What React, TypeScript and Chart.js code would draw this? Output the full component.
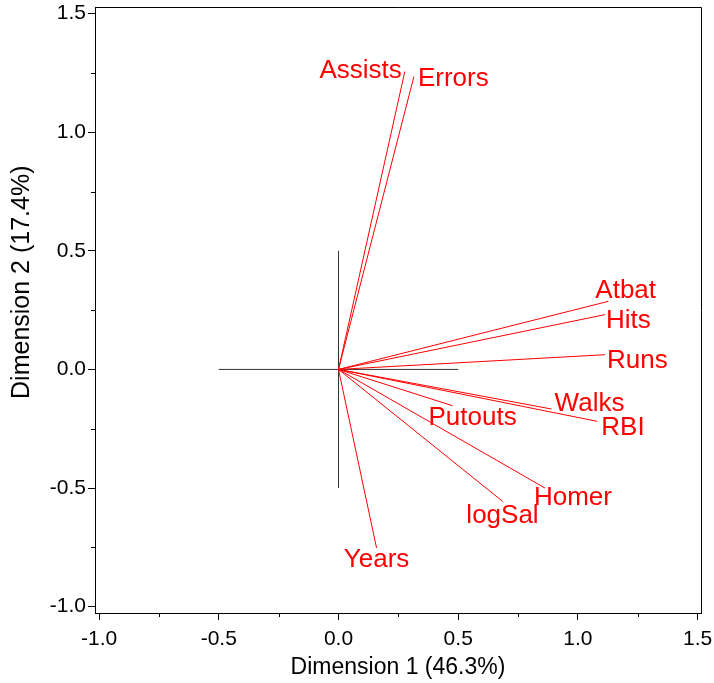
import { useEffect, useRef } from 'react';
import { Chart, registerables } from 'chart.js';

Chart.register(...registerables);

// ---- data ----
const variables = ['Assists', 'Errors', 'Atbat', 'Hits', 'Runs', 'Walks', 'RBI', 'Putouts', 'Homer', 'logSal', 'Years'];
const dim1 = [0.277, 0.315, 1.127, 1.113, 1.113, 0.890, 1.081, 0.476, 0.862, 0.685, 0.159];
const dim2 = [1.256, 1.235, 0.287, 0.231, 0.062, -0.167, -0.219, -0.153, -0.500, -0.556, -0.753];

const xTicks = [-1, -0.5, 0, 0.5, 1, 1.5];
const xTickLabels = ['-1.0', '-0.5', '0.0', '0.5', '1.0', '1.5'];
const yTicks = [-1, -0.5, 0, 0.5, 1, 1.5];
const yTickLabels = ['-1.0', '-0.5', '0.0', '0.5', '1.0', '1.5'];
const xMinorTicks = [-0.75, -0.25, 0.25, 0.75, 1.25];
const yMinorTicks = [-0.75, -0.25, 0.25, 0.75, 1.25];

const refHorizontal = [-0.5, 0.5];
const refVertical = [-0.5, 0.5];

const xTitle = 'Dimension 1 (46.3%)';
const yTitle = 'Dimension 2 (17.4%)';

// label placement relative to vector end (pixels): text anchor alignment, dx, dy of text centre
const labelPlacement: { align: CanvasTextAlign; dx: number; dy: number }[] = [
  { align: 'right', dx: -3, dy: -3 },
  { align: 'left', dx: 4, dy: 0 },
  { align: 'left', dx: -13, dy: -13 },
  { align: 'left', dx: 1, dy: 4 },
  { align: 'left', dx: 2, dy: 4 },
  { align: 'left', dx: 3, dy: -7 },
  { align: 'left', dx: 4, dy: 4 },
  { align: 'left', dx: -24, dy: 10 },
  { align: 'left', dx: -11, dy: 8 },
  { align: 'center', dx: 0, dy: 12 },
  { align: 'center', dx: 0, dy: 10 },
];

const FONT = "'Liberation Sans', Arial, sans-serif";
const RED = '#ff0000';
const LABEL_SIZE = 26;

const decorPlugin = {
  id: 'decor',
  afterDatasetsDraw(chart: any) {
    const { ctx, scales } = chart;
    const x = scales.x;
    const y = scales.y;
    ctx.save();
    ctx.fillStyle = RED;
    ctx.font = `${LABEL_SIZE}px ${FONT}`;
    ctx.textBaseline = 'alphabetic';
    const cap = LABEL_SIZE * 0.716;
    variables.forEach((name, i) => {
      const px = x.getPixelForValue(dim1[i]);
      const py = y.getPixelForValue(dim2[i]);
      const p = labelPlacement[i];
      ctx.textAlign = p.align;
      ctx.fillText(name, px + p.dx, py + p.dy + cap / 2);
    });
    ctx.restore();
  },
  afterDraw(chart: any) {
    const { ctx, chartArea: a, scales } = chart;
    const x = scales.x;
    const y = scales.y;
    ctx.save();
    ctx.strokeStyle = '#000';
    ctx.lineWidth = 1;
    ctx.beginPath();
    const top = Math.round(a.top) + 0.5;
    const right = Math.round(a.right) + 0.5;
    ctx.moveTo(Math.round(a.left), top);
    ctx.lineTo(right, top);
    ctx.lineTo(right, Math.round(a.bottom) + 0.5);
    // minor ticks
    xMinorTicks.forEach((v) => {
      const px = Math.round(x.getPixelForValue(v)) + 0.5;
      ctx.moveTo(px, a.bottom);
      ctx.lineTo(px, a.bottom + 4);
    });
    yMinorTicks.forEach((v) => {
      const py = Math.round(y.getPixelForValue(v)) + 0.5;
      ctx.moveTo(a.left, py);
      ctx.lineTo(a.left - 4, py);
    });
    ctx.stroke();
    ctx.restore();
  },
};

export default function App() {
  const canvasRef = useRef<HTMLCanvasElement | null>(null);

  useEffect(() => {
    document.body.style.margin = '0';
    const canvas = canvasRef.current;
    if (!canvas) return;

    const vectorSets = variables.map((name, i) => ({
      label: name,
      data: [
        { x: 0, y: 0 },
        { x: dim1[i], y: dim2[i] },
      ],
      showLine: true,
      borderColor: RED,
      backgroundColor: RED,
      borderWidth: 1,
      pointRadius: 0,
    }));

    const refSets = [
      {
        label: 'h',
        data: refHorizontal.map((v) => ({ x: v, y: 0 })),
        showLine: true,
        borderColor: '#333',
        backgroundColor: '#333',
        borderWidth: 1,
        pointRadius: 0,
      },
      {
        label: 'v',
        data: refVertical.map((v) => ({ x: 0, y: v })),
        showLine: true,
        borderColor: '#333',
        backgroundColor: '#333',
        borderWidth: 1,
        pointRadius: 0,
      },
    ];

    const chart = new Chart(canvas, {
      type: 'scatter',
      data: { datasets: [...vectorSets, ...refSets] as any },
      plugins: [decorPlugin],
      options: {
        animation: false,
        responsive: false,
        layout: { padding: { top: 7, right: 13, left: 0, bottom: 0 } },
        plugins: {
          legend: { display: false },
          tooltip: { enabled: false },
        },
        scales: {
          x: {
            type: 'linear',
            position: 'bottom',
            min: -1.017,
            max: 1.514,
            afterBuildTicks: (s: any) => {
              s.ticks = xTicks.map((v) => ({ value: v }));
            },
            afterFit: (s: any) => {
              s.height = 70;
              s.paddingLeft = 0;
              s.paddingRight = 0;
            },
            ticks: {
              autoSkip: false,
              maxRotation: 0,
              padding: 7,
              color: '#000',
              font: { family: FONT, size: 21 },
              callback: (v: any) => {
                const i = xTicks.indexOf(Number(v));
                return i >= 0 ? xTickLabels[i] : '';
              },
            },
            grid: {
              display: true,
              drawOnChartArea: false,
              drawTicks: true,
              tickLength: 7,
              tickColor: '#000',
              tickWidth: 1,
            },
            border: { display: true, color: '#000', width: 1 },
            title: {
              display: true,
              text: xTitle,
              color: '#000',
              font: { family: FONT, size: 23 },
              padding: { top: 0, bottom: 2 },
            },
          },
          y: {
            type: 'linear',
            position: 'left',
            min: -1.027,
            max: 1.528,
            afterBuildTicks: (s: any) => {
              s.ticks = yTicks.map((v) => ({ value: v }));
            },
            afterFit: (s: any) => {
              s.width = 95;
              s.paddingTop = 0;
              s.paddingBottom = 0;
            },
            ticks: {
              autoSkip: false,
              padding: 2,
              color: '#000',
              font: { family: FONT, size: 21 },
              callback: (v: any) => {
                const i = yTicks.indexOf(Number(v));
                return i >= 0 ? yTickLabels[i] : '';
              },
            },
            grid: {
              display: true,
              drawOnChartArea: false,
              drawTicks: true,
              tickLength: 7,
              tickColor: '#000',
              tickWidth: 1,
            },
            border: { display: true, color: '#000', width: 1 },
            title: {
              display: true,
              // leading spaces nudge the rotated title upward, as in the reference
              text: '        ' + yTitle,
              color: '#000',
              font: { family: FONT, size: 25 },
              padding: { top: 7, bottom: 0 },
            },
          },
        },
      },
    });

    return () => {
      chart.destroy();
    };
  }, []);

  return <canvas ref={canvasRef} width={714} height={683} style={{ display: 'block' }} />;
}
